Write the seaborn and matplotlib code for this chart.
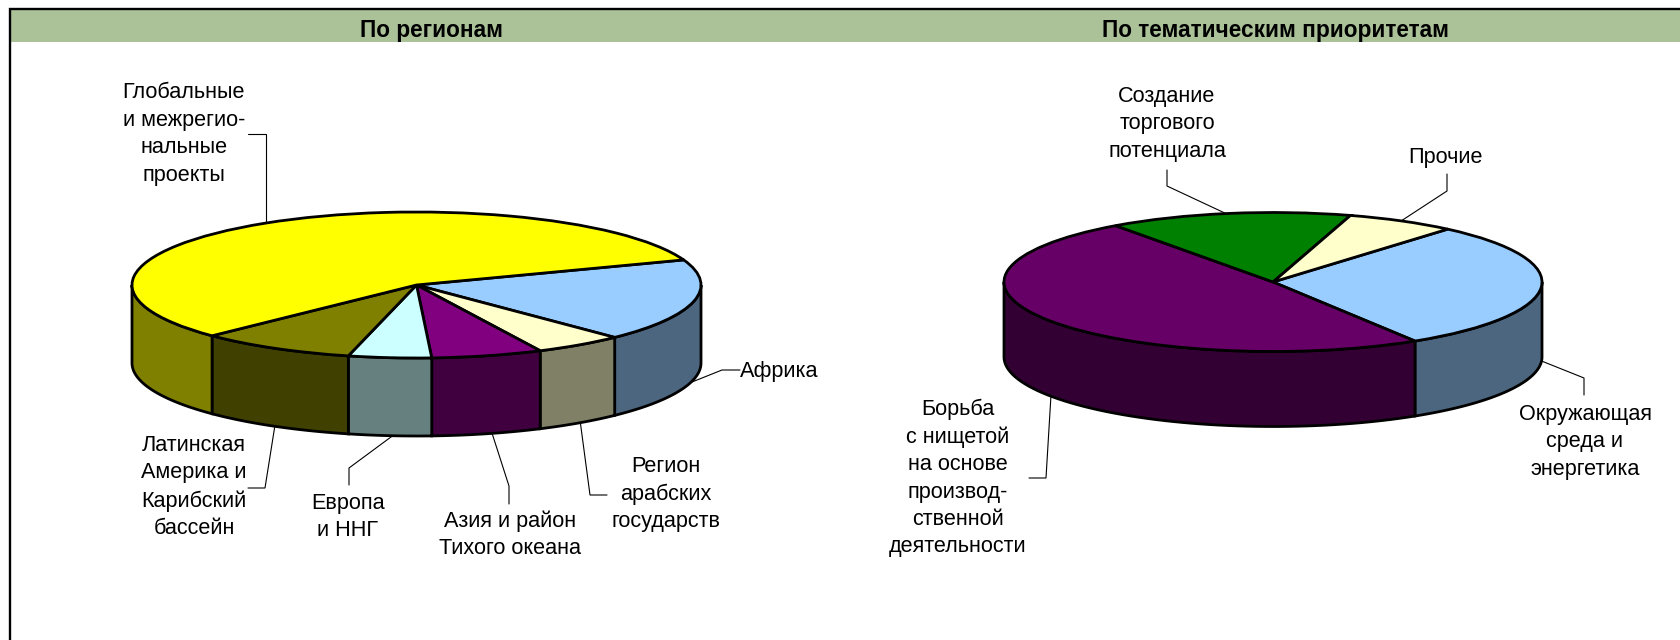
import numpy as np
import matplotlib
matplotlib.use('Agg')
import matplotlib.pyplot as plt
import seaborn as sns

sns.set_theme(style='white')
plt.rcParams['font.family'] = ['Liberation Sans', 'DejaVu Sans']

# shares, clockwise from the start angle
region_names = ['Африка', 'Регион арабских государств', 'Азия и район Тихого океана',
                'Европа и ННГ', 'Латинская Америка и Карибский бассейн',
                'Глобальные и межрегиональные проекты']
region_values = [18.3, 5.1, 6.3, 4.7, 8.9, 56.6]
region_top = ['#99CCFF', '#FFFFCC', '#800080', '#CCFFFF', '#808000', '#FFFF00']
region_side = ['#4D6680', '#808066', '#400040', '#668080', '#404000', '#808000']

theme_names = ['Окружающая среда и энергетика',
               'Борьба с нищетой на основе производственной деятельности',
               'Создание торгового потенциала', 'Прочие']
theme_values = [29.9, 48.9, 14.6, 6.6]
theme_top = ['#99CCFF', '#660066', '#008000', '#FFFFCC']
theme_side = ['#4D6680', '#330033', '#004000', '#808066']

W, H = 1680, 640
LABEL_SIZE = 15.6
HEADER_SIZE = 16.3


def pie_3d(fig, cx, cy, a, b, depth, values, top, side, start):
    # squashed axes turn the round pie into an ellipse
    ax = fig.add_axes([(cx - a) / W, 1 - (cy + b + depth) / H, 2 * a / W, (2 * b + depth) / H])
    wedges, _ = ax.pie(values, colors=sns.color_palette(top), startangle=start, counterclock=False,
                       wedgeprops={'edgecolor': 'black', 'linewidth': 2.0})
    for w in wedges:
        w.set_clip_on(False)
        w.set_zorder(5)
    ax.set_aspect('auto')
    ax.set_xlim(-1, 1)
    ax.set_ylim(-1 - depth / b, 1)
    ax.axis('off')

    # side wall: only the part of each slice on the lower half shows
    d = depth / b
    edges = start - np.cumsum([0] + list(values)) / np.sum(values) * 360
    for t1, t2, c in zip(edges[:-1], edges[1:], side):
        for shift in (0, 360, -360):
            hi = min(t1 + shift, 0)
            lo = max(t2 + shift, -180)
            if hi <= lo:
                continue
            t = np.radians(np.linspace(hi, lo, 60))
            xs = np.r_[np.cos(t), np.cos(t)[::-1]]
            ys = np.r_[np.sin(t), np.sin(t)[::-1] - d]
            ax.fill(xs, ys, facecolor=c, edgecolor='black', linewidth=2.0, clip_on=False, zorder=2)
    return ax


fig = plt.figure(figsize=(16.8, 6.4), dpi=100, facecolor='white')
bg = fig.add_axes([0, 0, 1, 1])
bg.set_xlim(0, W)
bg.set_ylim(H, 0)
bg.axis('off')

# header band and frame
bg.fill_between([10, W], 9, 42, color='#ABC299', lw=0)
bg.plot([10, 10, W], [H, 9, 9], color='black', lw=1.7, solid_joinstyle='miter')
bg.text(432, 30, 'По регионам', ha='center', va='center', fontsize=HEADER_SIZE, fontweight='bold', color='black')
bg.text(1276, 30, 'По тематическим приоритетам', ha='center', va='center', fontsize=HEADER_SIZE, fontweight='bold', color='black')

# labels with their leader lines
labels = [
    (184, 134, 'Глобальные\nи межрегио-\nнальные\nпроекты'),
    (779, 371, 'Африка'),
    (666, 494, 'Регион\nарабских\nгосударств'),
    (510, 535, 'Азия и район\nТихого океана'),
    (348, 517, 'Европа\nи ННГ'),
    (194, 487, 'Латинская\nАмерика и\nКарибский\nбассейн'),
    (1167, 124, 'Создание\nторгового\nпотенциала'),
    (1446, 157, 'Прочие'),
    (1585, 442, 'Окружающая\nсреда и\nэнергетика'),
    (958, 478, 'Борьба\nс нищетой\nна основе\nпроизвод-\nственной\nдеятельности'),
]
for x, y, s in labels:
    bg.text(x, y, s, ha='center', va='center', fontsize=LABEL_SIZE, linespacing=1.4, color='black')

leaders = [
    ([248, 266, 266], [134, 134, 225]),
    ([740, 722, 692], [370, 370, 382]),
    ([607, 590, 580], [495, 495, 420]),
    ([509, 509, 491], [504, 486, 430]),
    ([349, 349, 395], [485, 468, 434]),
    ([248, 265, 275], [488, 488, 425]),
    ([1167, 1167, 1229], [170, 186, 215]),
    ([1447, 1447, 1398], [174, 191, 223]),
    ([1539, 1584, 1584], [360, 378, 395]),
    ([1051, 1046, 1029], [395, 478, 478]),
]
for xs, ys in leaders:
    bg.plot(xs, ys, color='black', lw=0.8, solid_joinstyle='miter')

pie_3d(fig, 416.5, 285, 284.5, 73, 78, region_values, region_top, region_side, 20.1)
pie_3d(fig, 1273, 282, 269, 69.5, 75, theme_values, theme_top, theme_side, 49.5)

sns.despine(fig=fig, left=True, bottom=True)
fig.savefig('out.png', dpi=100)
